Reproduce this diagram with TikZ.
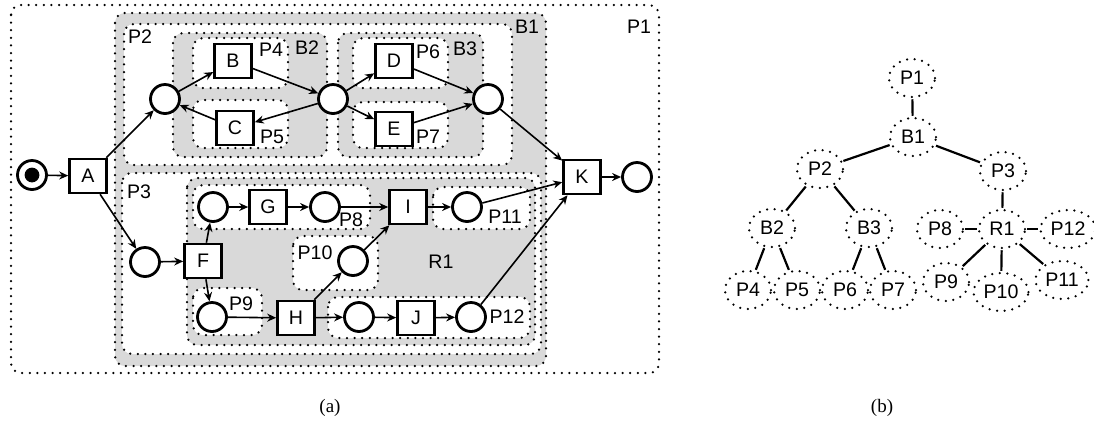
\documentclass[tikz,border=0pt]{standalone}
\usepackage{fontspec}
\setmainfont{Liberation Sans}
\newfontfamily\subfigfont{Liberation Serif}
\usetikzlibrary{arrows.meta,shapes.geometric}
\definecolor{blockGray}{gray}{0.85}

\begin{document}
\begin{tikzpicture}[x=0.5pt, y=-0.5pt,
    every node/.style={font=\fontsize{9.8}{11}\selectfont},
    dots/.style={line width=1.25pt, dash pattern=on 0pt off 3.8pt, line cap=round},
    blockreg/.style={dots, rounded corners=5pt, fill=blockGray},
    plainreg/.style={dots, rounded corners=5pt, fill=white},
    place/.style={draw, fill=white, circle, line width=1.4pt, minimum size=14.5pt, inner sep=0pt},
    trans/.style={draw, fill=white, rectangle, line width=1.3pt, minimum width=18.5pt, minimum height=17pt, inner sep=0pt},
    flow/.style={-{Stealth[length=4.5pt, width=4pt]}, line width=0.8pt},
    treenode/.style={draw, ellipse, dots, minimum width=23pt, minimum height=19pt, inner sep=1pt},
    treeedge/.style={line width=1.1pt, shorten <=0.5pt, shorten >=0.5pt}]

\useasboundingbox (0,0) rectangle (1094,430);

% (a) nested regions
\draw[dots, rounded corners=5pt] (11,5) rectangle (659,373);
\draw[blockreg] (115,13) rectangle (546,366);
\foreach \xa/\ya/\xb/\yb in {124/24/512/165, 122/173/541/354}
    \draw[plainreg] (\xa,\ya) rectangle (\xb,\yb);
\foreach \xa/\ya/\xb/\yb in {173/33/327/157, 338/33/483/157, 187/178/535/345}
    \draw[blockreg] (\xa,\ya) rectangle (\xb,\yb);
\foreach \xa/\ya/\xb/\yb in {193/38/288/88, 193/100/288/148, 353/38/448/88, 353/102/448/148,
        193/185/370/229, 193/288/262/335, 293/236/378/290, 433/187/530/229, 328/297/530/338}
    \draw[plainreg] (\xa,\ya) rectangle (\xb,\yb);

\foreach \nm/\x/\y in {P1/639/27, B1/527/27, P2/140/37, P3/139/192, B2/307/48, B3/465/49,
        P4/271/50, P5/272/137, P6/428/52, P7/428/137, P8/351/220, P9/241/304,
        P10/315/253, P11/505/217, P12/507/317, R1/441/262}
    \node (lb\nm) at (\x,\y) {\nm};

% (a) net
\foreach \nm/\x/\y in {start/32/175, pA/165/99, pB/333/99, pC/488/99, pF/145/262,
        pG1/213/207, pG2/325/207, pI/467/207, pH0/212/317, pH1/353/261,
        pH2/359/317, pJ/471/317, pEnd/637/177}
    \node[place] (\nm) at (\x,\y) {};
\fill (start.center) circle (3.7pt);

\foreach \nm/\x/\y in {A/88/176, B/233/61, C/235/128, D/394/61, E/394/129, F/203/261,
        G/268/207, H/296/318, I/408/207, J/416/318, K/582/177}
    \node[trans] (\nm) at (\x,\y) {\nm};

\foreach \a/\b in {start/A, A/pA, A/pF, pA/B, C/pA, B/pB, pB/C, pB/D, pB/E, D/pC, E/pC,
        pC/K, pF/F, F/pG1, F/pH0, pG1/G, G/pG2, pG2/I, I/pI, pI/K, pH0/H, H/pH1,
        pH1/I, H/pH2, pH2/J, J/pJ, pJ/K, K/pEnd}
    \draw[flow] (\a) -- (\b);

% (b) tree
\foreach \nm/\x/\y in {P1/912/78, B1/913/137, P2/820/169, P3/1003/171, B2/772/228,
        B3/869/228, P8/940/229, R1/1002/229, P12/1068/229, P4/748/290, P5/797/290,
        P6/845/290, P7/893/290, P9/946/282, P10/1001/292, P11/1062/280}
    \node[treenode] (t\nm) at (\x,\y) {\nm};

\foreach \a/\b in {P1/B1, B1/P2, B1/P3, P2/B2, P2/B3, B2/P4, B2/P5, B3/P6, B3/P7,
        P3/R1, R1/P8, R1/P12, R1/P9, R1/P10, R1/P11}
    \draw[treeedge] (t\a) -- (t\b);

\node[font=\subfigfont\fontsize{9.5}{11}\selectfont] (capA) at (330,408) {(a)};
\node[font=\subfigfont\fontsize{9.5}{11}\selectfont] (capB) at (882,408) {(b)};
\end{tikzpicture}
\end{document}
